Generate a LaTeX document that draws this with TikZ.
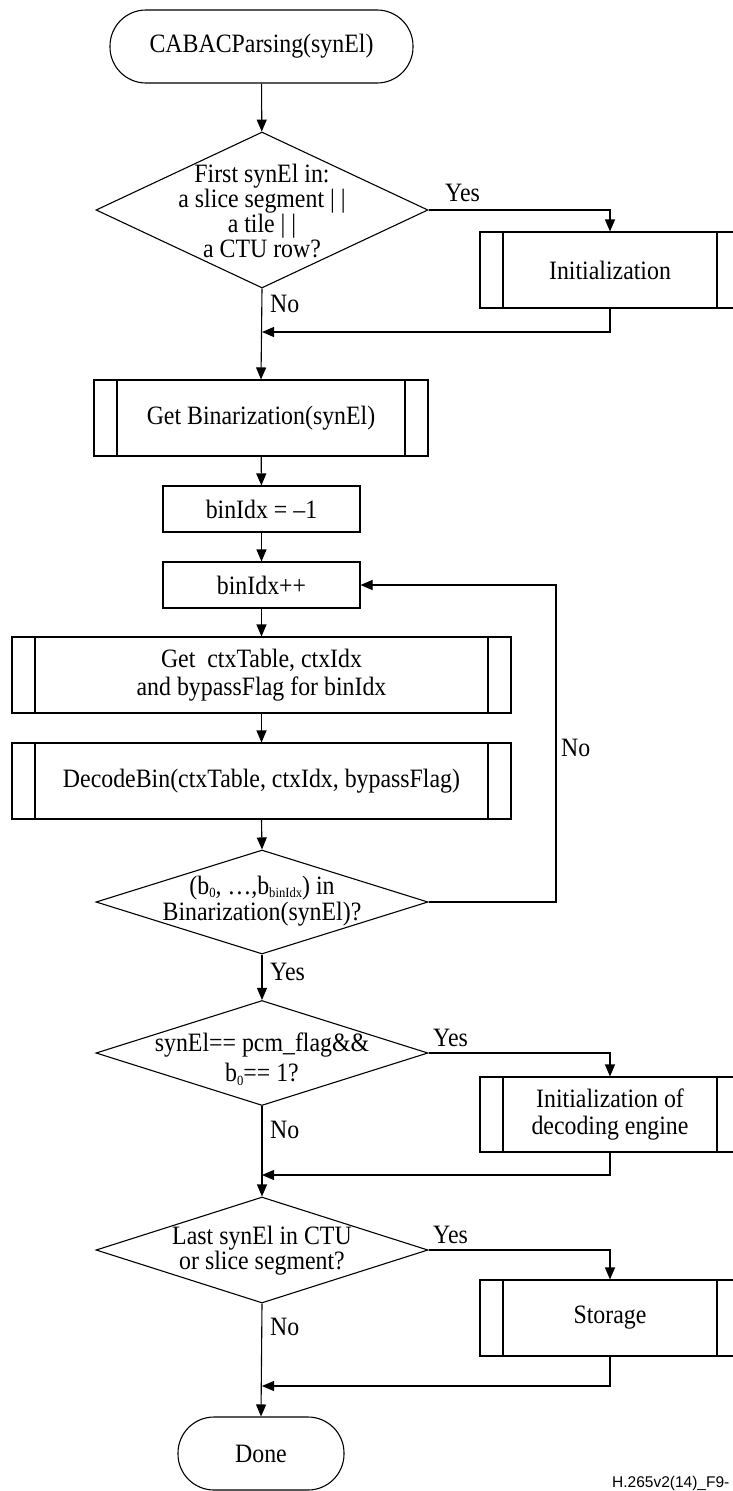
\documentclass[tikz,border=0pt]{standalone}
\usepackage{fontspec}
\setmainfont{Liberation Serif}[FakeStretch=0.9]
\newfontfamily\footfont{Liberation Sans}
\usetikzlibrary{shapes.geometric,arrows.meta,calc}

% lowered small index used in the decision texts
\newcommand\lowidx[1]{\raisebox{-0.3ex}{\fontsize{14}{14}\selectfont #1}}

\tikzset{
  body/.style={font=\fontsize{26.5}{21}\selectfont, align=center, inner sep=0pt},
  terminal/.style={draw, line width=1.1pt, rectangle, rounded corners=36pt, inner sep=0pt, body},
  procbox/.style={draw, line width=1.1pt, rectangle, inner sep=0pt, body},
  subproc/.style={procbox, path picture={
      \draw[line width=1.1pt]
        ([xshift=23pt]path picture bounding box.north west) -- ([xshift=23pt]path picture bounding box.south west)
        ([xshift=-23pt]path picture bounding box.north east) -- ([xshift=-23pt]path picture bounding box.south east);}},
  decision/.style={draw, line width=1.1pt, diamond, inner sep=0pt},
  dtext/.style={body},
  lbl/.style={font=\fontsize{26.5}{21}\selectfont, inner sep=0pt, anchor=west},
  arr/.style={line width=1.1pt, -{Triangle[length=12pt,width=10pt]}},
}

\begin{document}
\begin{tikzpicture}[x=1pt, y=-1pt]
\useasboundingbox (0,0) rectangle (733,1491);
\clip (0,0) rectangle (733,1491);

% main column
\node[terminal, minimum width=303pt, minimum height=73pt] (start) at (261.5,46.5) {CABACParsing(synEl)};

\node[decision, minimum width=332pt, minimum height=156pt] (d1) at (262,210) {};
\node[dtext] (d1t) at (262,211) {First synEl in:\\a slice segment | |\\a tile | |\\a CTU row?};

\node[subproc, minimum width=260pt, minimum height=76pt] (init1) at (610,270) {Initialization};

\node[subproc, minimum width=334pt, minimum height=76pt] (getbin) at (261,418) {Get Binarization(synEl)};
\node[procbox, minimum width=197pt, minimum height=46pt] (binm1) at (261.5,509) {binIdx = –1};
\node[procbox, minimum width=197pt, minimum height=46pt] (binpp) at (261.5,585) {binIdx++};
\node[subproc, minimum width=499pt, minimum height=76pt, font=\fontsize{26.5}{28}\selectfont] (ctx) at (261.5,675) {Get\ \ ctxTable, ctxIdx\\and bypassFlag for binIdx};
\node[subproc, minimum width=499pt, minimum height=76pt] (dec) at (261.5,781) {DecodeBin(ctxTable, ctxIdx, bypassFlag)};

\node[decision, minimum width=332pt, minimum height=104pt] (d2) at (262,902) {};
\node[dtext, font=\fontsize{26.5}{26}\selectfont] (d2t) at (262,901) {(b\lowidx{0}, …,b\lowidx{binIdx}) in\\Binarization(synEl)?};

\node[decision, minimum width=332pt, minimum height=105pt] (d3) at (262,1053) {};
\node[dtext, font=\fontsize{26.5}{30}\selectfont] (d3t) at (262,1059) {synEl== pcm\_flag\&\&\\b\lowidx{0}== 1?};

\node[subproc, minimum width=260pt, minimum height=75pt, font=\fontsize{26.5}{27}\selectfont] (init2) at (610,1114.5) {Initialization of\\decoding engine};

\node[decision, minimum width=332pt, minimum height=106pt] (d4) at (262,1250) {};
\node[dtext] (d4t) at (262,1251) {Last synEl in CTU\\or slice segment?};

\node[subproc, minimum width=260pt, minimum height=76pt] (store) at (610,1318) {Storage};

\node[terminal, minimum width=166pt, minimum height=73pt] (done) at (261,1453.5) {Done};

% join points on the main column
\coordinate (j1) at (262,332);
\coordinate (j2) at (262,1175);
\coordinate (j3) at (262,1386);
\coordinate (loop) at (556,585);

% connectors
\draw[arr] (start) -- (d1);
\draw[arr] (d1.east) -| (init1.north);
\draw[arr] (init1.south) |- (j1);
\draw[arr] (d1.south) -- (getbin.north);
\draw[arr] (getbin) -- (binm1);
\draw[arr] (binm1) -- (binpp);
\draw[arr] (binpp) -- (ctx);
\draw[arr] (ctx) -- (dec);
\draw[arr] (dec.south) -- (d2.north);
\draw[arr] (d2.east) -| (loop) -- (binpp.east);
\draw[arr] (d2.south) -- (d3.north);
\draw[arr] (d3.east) -| (init2.north);
\draw[arr] (init2.south) |- (j2);
\draw[arr] (d3.south) -- (d4.north);
\draw[arr] (d4.east) -| (store.north);
\draw[arr] (store.south) |- (j3);
\draw[arr] (d4.south) -- (done.north);

% branch labels
\node[lbl] (y1) at (445,193) {Yes};
\node[lbl] (n1) at (270,304) {No};
\node[lbl] (n2) at (561,748) {No};
\node[lbl] (y2) at (270,972) {Yes};
\node[lbl] (y3) at (433,1038) {Yes};
\node[lbl] (n3) at (270,1130) {No};
\node[lbl] (y4) at (433,1235) {Yes};
\node[lbl] (n4) at (270,1327) {No};

% figure tag
\node[font=\footfont\fontsize{15.5}{16}\selectfont, anchor=base west, inner sep=0pt] (tag) at (612,1487) {H.265v2(14)\_F9-};
\end{tikzpicture}
\end{document}
